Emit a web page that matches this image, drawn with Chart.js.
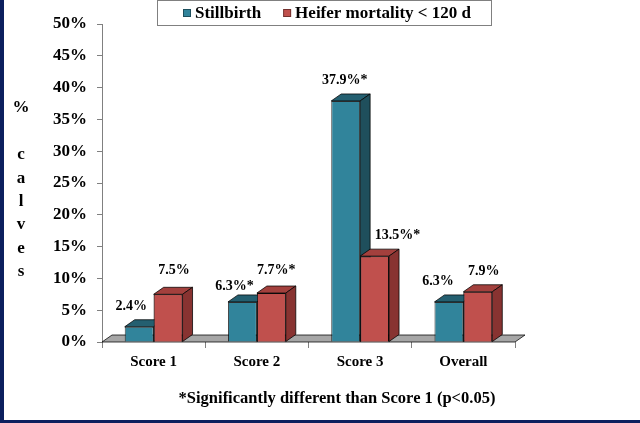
<!DOCTYPE html>
<html>
<head>
<meta charset="utf-8">
<script src="https://cdn.jsdelivr.net/npm/chart.js@4"></script>
<style>
  html, body { margin: 0; padding: 0; background: #fff; }
  #wrap { width: 636px; height: 420px; border-left: 4px solid #0c1f5e; border-bottom: 3px solid #0c1f5e; }
</style>
</head>
<body>
<div id="wrap"><canvas id="chart" width="636" height="420"></canvas></div>
<script>
// Chart data
const categories = ['Score 1', 'Score 2', 'Score 3', 'Overall'];
const stillbirth = [2.4, 6.3, 37.9, 6.3];
const heiferMortality = [7.5, 7.7, 13.5, 7.9];
const stillbirthLabels = ['2.4%', '6.3%*', '37.9%*', '6.3%'];
const heiferLabels = ['7.5%', '7.7%*', '13.5%*', '7.9%'];
const yMin = 0, yMax = 50, yStep = 5;
const yTitle = ['%', '', 'c', 'a', 'l', 'v', 'e', 's'];
const footnote = '*Significantly different than Score 1 (p<0.05)';

const serif = "'Liberation Serif', 'Times New Roman', serif";
const depthX = 10, depthY = 7;

// colours for front / top / side faces
const faces = [
  { front: '#31849b', top: '#245f70', side: '#1f4f5c' },
  { front: '#c0504d', top: '#a3403d', side: '#883331' }
];
const valueLabels = [stillbirthLabels, heiferLabels];
// hand placed value labels (offset from the bar's top centre)
const labelShift = [
  { dx: [-8, -8, -1, -11], dy: [-20, -16, -21, -21] },
  { dx: [6, 5, 23, 6], dy: [-24, -23, -21, -20] }
];

function poly(ctx, pts, fill) {
  ctx.beginPath();
  ctx.moveTo(pts[0][0], pts[0][1]);
  for (let i = 1; i < pts.length; i++) ctx.lineTo(pts[i][0], pts[i][1]);
  ctx.closePath();
  ctx.fillStyle = fill;
  ctx.fill();
  ctx.strokeStyle = 'rgba(0,0,0,0.75)';
  ctx.lineWidth = 1;
  ctx.stroke();
}

function depthFaces(ctx, el, f) {
  const L = el.x - el.width / 2, R = el.x + el.width / 2;
  const top = el.y, base = el.base;
  poly(ctx, [[L, top], [L + depthX, top - depthY], [R + depthX, top - depthY], [R, top]], f.top);
  poly(ctx, [[R, top], [R + depthX, top - depthY], [R + depthX, base - depthY], [R, base]], f.side);
}

const bars3d = {
  id: 'bars3d',
  beforeDatasetsDraw(chart) {
    // grey floor
    const { ctx, chartArea } = chart;
    const y = chartArea.bottom, l = chartArea.left, r = chartArea.right;
    ctx.save();
    poly(ctx, [[l, y], [l + depthX, y - depthY], [r + depthX, y - depthY], [r, y]], '#a6a6a6');
    ctx.restore();
  },
  afterDatasetsDraw(chart) {
    const ctx = chart.ctx;
    const blue = chart.getDatasetMeta(0).data;
    const red = chart.getDatasetMeta(1).data;
    ctx.save();
    // per category: blue depth, then red front on top of it, then red depth
    blue.forEach((el, j) => {
      depthFaces(ctx, el, faces[0]);
      red[j].draw(ctx);
      depthFaces(ctx, red[j], faces[1]);
    });
    // value labels
    ctx.font = 'bold 14px ' + serif;
    ctx.fillStyle = '#000';
    ctx.textAlign = 'center';
    ctx.textBaseline = 'middle';
    [blue, red].forEach((els, i) => {
      els.forEach((el, j) => {
        ctx.fillText(valueLabels[i][j], el.x + labelShift[i].dx[j], el.y + labelShift[i].dy[j]);
      });
    });
    ctx.restore();
  },
  afterDraw(chart) {
    const ctx = chart.ctx;
    ctx.save();
    // legend box
    ctx.strokeStyle = '#808080';
    ctx.lineWidth = 1;
    ctx.strokeRect(153.5, 0.5, 334, 25);
    ctx.font = 'bold 17px ' + serif;
    ctx.textBaseline = 'middle';
    ctx.textAlign = 'left';
    let x = 179;
    chart.data.datasets.forEach(ds => {
      ctx.fillStyle = ds.backgroundColor;
      ctx.fillRect(x, 9, 8, 8);
      ctx.strokeStyle = 'rgba(0,0,0,0.4)';
      ctx.strokeRect(x + 0.5, 9.5, 7, 7);
      ctx.fillStyle = '#000';
      ctx.fillText(ds.label, x + 12, 14);
      x += 12 + ctx.measureText(ds.label).width + 22;
    });
    // stacked y title
    ctx.font = 'bold 17px ' + serif;
    ctx.textAlign = 'center';
    yTitle.forEach((ch, i) => ctx.fillText(ch, 17, 108 + i * 23.4));
    // footnote
    ctx.font = 'bold 16.5px ' + serif;
    ctx.fillText(footnote, 333, 399);
    ctx.restore();
  }
};

new Chart(document.getElementById('chart'), {
  type: 'bar',
  data: {
    labels: categories,
    datasets: [
      { label: 'Stillbirth', data: stillbirth, backgroundColor: faces[0].front,
        borderColor: 'rgba(0,0,0,0.75)', borderWidth: 1 },
      { label: 'Heifer mortality < 120 d', data: heiferMortality, backgroundColor: faces[1].front,
        borderColor: 'rgba(0,0,0,0.75)', borderWidth: 1 }
    ]
  },
  options: {
    responsive: false,
    animation: false,
    barPercentage: 1,
    categoryPercentage: 0.56,
    layout: { padding: { top: 24, right: 125, left: 0, bottom: 0 } },
    plugins: { legend: { display: false }, tooltip: { enabled: false } },
    scales: {
      x: {
        grid: { display: true, drawOnChartArea: false, offset: true, tickLength: 6, color: '#808080' },
        border: { display: false },
        ticks: { color: '#000', padding: 5, font: { family: serif, size: 15, weight: 'bold' } },
        afterFit(scale) { scale.height = 78; }
      },
      y: {
        min: yMin, max: yMax,
        grid: { display: true, drawOnChartArea: false, tickLength: 5, color: '#808080' },
        border: { display: true, color: '#808080' },
        ticks: { stepSize: yStep, color: '#000', padding: 10,
          font: { family: serif, size: 17, weight: 'bold' },
          callback: v => v + '%' },
        afterFit(scale) { scale.width = 98; }
      }
    }
  },
  plugins: [bars3d]
});
</script>
</body>
</html>
